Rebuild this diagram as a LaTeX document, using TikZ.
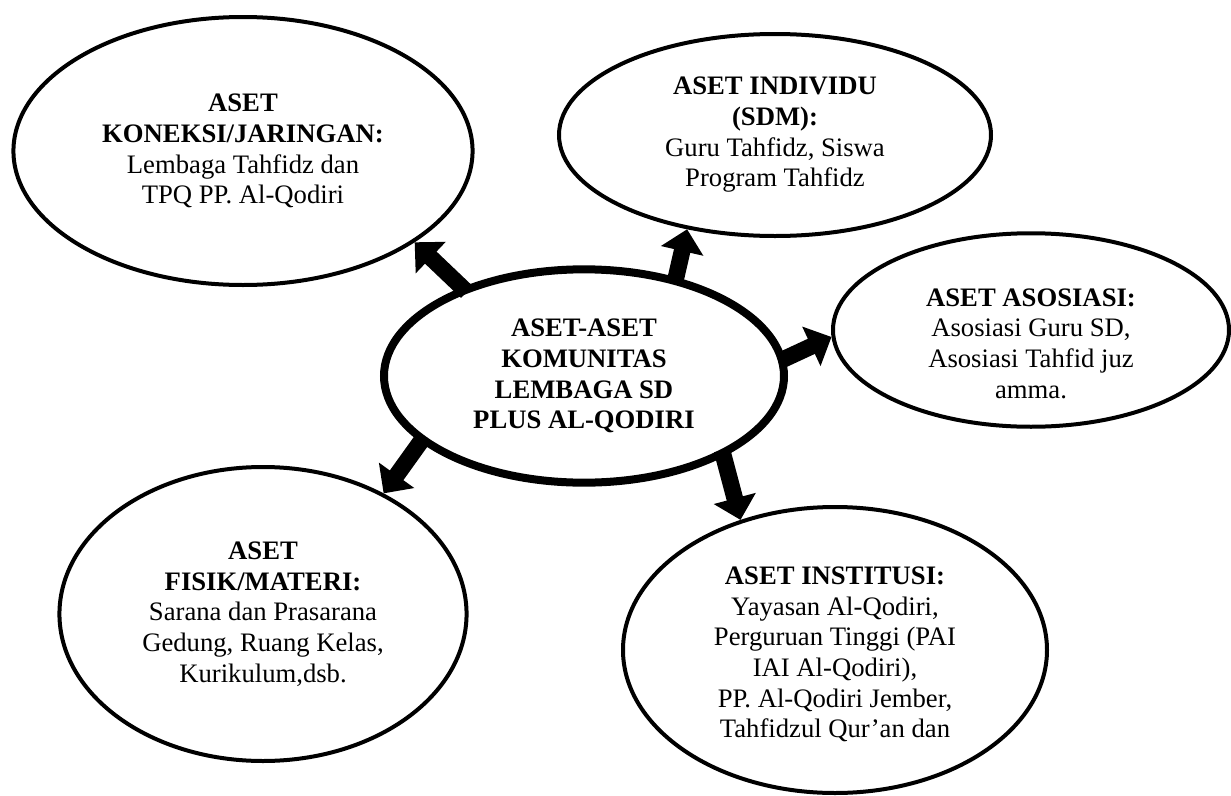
\documentclass[tikz,border=0pt]{standalone}
\usepackage{fontspec}
\setmainfont{Liberation Serif}
\usetikzlibrary{shapes.geometric,arrows.meta}

\begin{document}
\begin{tikzpicture}[x=0.45pt,y=-0.45pt,
		aset/.style={draw, ellipse, line width=1.8pt, inner sep=0pt, align=center,
			font=\fontsize{12}{13.8}\selectfont},
		panah/.style={line width=7.5pt, -{Triangle[width=19pt,length=10pt]}, shorten <=-3pt}]
		\useasboundingbox (0,0) rectangle (1231,796);
		
		% Elips utama
		\node[aset, line width=3.6pt, minimum width=180pt, minimum height=96pt,
			font=\fontsize{12}{13.8}\selectfont\bfseries] (pusat) at (584,376)
		{ASET-ASET\\KOMUNITAS\\LEMBAGA SD\\PLUS AL-QODIRI};
		
		% Aset koneksi / jaringan
		\node[aset, minimum width=206.6pt, minimum height=120.6pt] (koneksi) at (243,151)
		{\textbf{ASET}\\\textbf{KONEKSI/JARINGAN:}\\Lembaga Tahfidz dan\\TPQ PP. Al-Qodiri};
		
		% Aset individu
		\node[aset, minimum width=194.4pt, minimum height=90.9pt] (individu) at (775,135)
		{\textbf{ASET INDIVIDU}\\\textbf{(SDM):}\\Guru Tahfidz, Siswa\\Program Tahfidz};
		
		% Aset asosiasi (teks sedikit ke bawah)
		\node[aset, minimum width=178.2pt, minimum height=81.9pt] (asosiasi) at (1031,330)
		{\rule{0pt}{20pt}\textbf{ASET ASOSIASI:}\\Asosiasi Guru SD,\\Asosiasi Tahfid juz\\amma.};
		
		% Aset fisik / materi
		\node[aset, minimum width=183.2pt, minimum height=132.3pt] (fisik) at (263,614)
		{\textbf{ASET}\\\textbf{FISIK/MATERI:}\\Sarana dan Prasarana\\Gedung, Ruang Kelas,\\Kurikulum,dsb.};
		
		% Aset institusi
		\node[aset, minimum width=190.8pt, minimum height=128.7pt] (institusi) at (835,650)
		{\rule{0pt}{12pt}\textbf{ASET INSTITUSI:}\\Yayasan Al-Qodiri,\\Perguruan Tinggi (PAI\\IAI Al-Qodiri),\\PP. Al-Qodiri Jember,\\Tahfidzul Qur’an dan};
		
		% Panah
		\draw[panah] (pusat.144) -- (koneksi.-28);
		\draw[panah] (pusat.47) -- (individu.-133);
		\draw[panah] (pusat.5) -- (asosiasi.182);
		\draw[panah] (pusat.202) -- (fisik.45);
		\draw[panah] (pusat.-30) -- (institusi.126);
	\end{tikzpicture}
\end{document}
